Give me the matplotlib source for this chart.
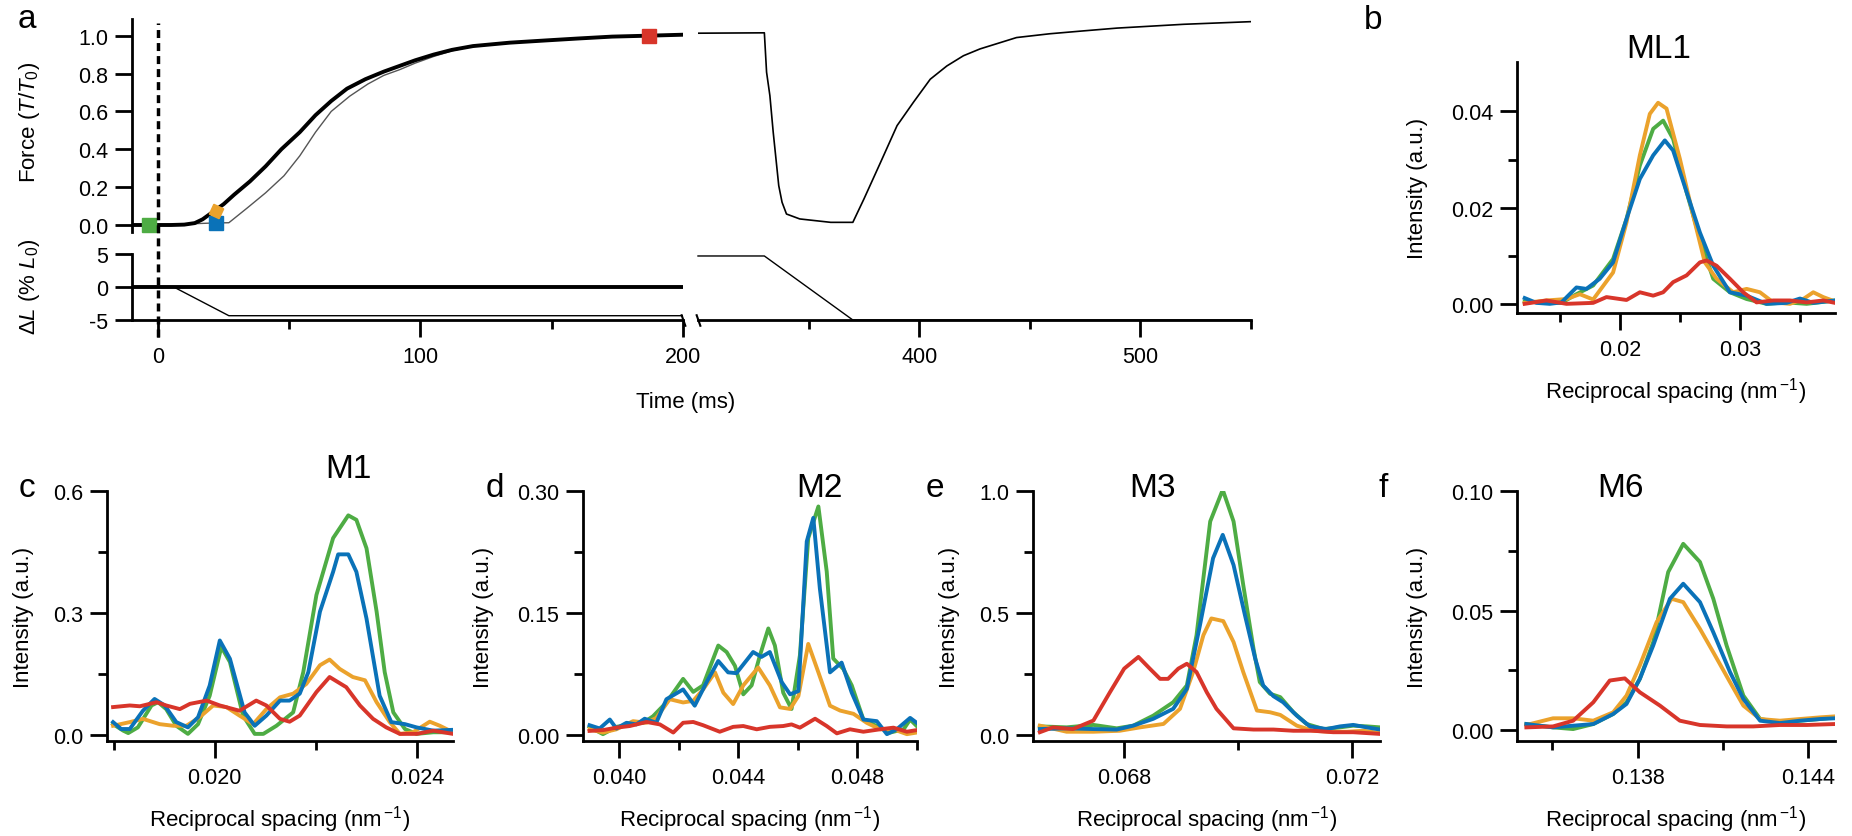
import matplotlib
matplotlib.use("Agg")
import matplotlib.pyplot as plt
from matplotlib.ticker import FixedLocator, FormatStrFormatter, FixedFormatter

plt.rcParams['font.family'] = ['Liberation Sans', 'DejaVu Sans']
plt.rcParams['mathtext.fontset'] = 'custom'
plt.rcParams['mathtext.rm'] = 'Liberation Sans'
plt.rcParams['mathtext.it'] = 'Liberation Sans:italic'
plt.rcParams['axes.unicode_minus'] = False

W, H = 1852, 837
GREEN, ORANGE, BLUE, RED = '#4EAC44', '#EBA22C', '#0A72B8', '#D8352A'

# ---------------- panel a : force and length traces ----------------
t_active = [-10, -5, 0, 5, 10, 14, 17, 21, 25, 29, 35, 41, 47, 54, 60, 66, 72, 79, 86, 92,
            98, 105, 112, 120, 134, 148, 160, 173, 187, 200]
f_active = [0.0, 0.0, 0.0, 0.0, 0.002, 0.01, 0.03, 0.07, 0.11, 0.16, 0.23, 0.31, 0.40, 0.49,
            0.58, 0.655, 0.72, 0.77, 0.81, 0.84, 0.87, 0.90, 0.925, 0.945, 0.963, 0.975,
            0.985, 0.995, 1.0, 1.005]
t_ramp = [-10, 10, 20, 27, 34, 41, 48, 54, 60, 66, 73, 80, 86, 92, 98, 105, 112, 120]
f_ramp = [0.0, 0.005, 0.01, 0.012, 0.09, 0.17, 0.26, 0.365, 0.49, 0.60, 0.68, 0.745, 0.79,
          0.82, 0.855, 0.89, 0.92, 0.945]
t_late = [300, 330, 331, 332.5, 334, 336.5, 338, 340, 346, 360, 370, 375, 382.5, 390, 397.5,
          405, 412.5, 420, 427.5, 444, 459, 474, 489.5, 519.5, 550]
f_late = [1.013, 1.015, 0.807, 0.683, 0.49, 0.208, 0.12, 0.058, 0.032, 0.014, 0.014, 0.137,
          0.33, 0.525, 0.65, 0.77, 0.84, 0.894, 0.93, 0.99, 1.01, 1.025, 1.04, 1.06, 1.074]
t_len_fixed = [-10, 200]
l_len_fixed = [0, 0]
t_len_ramp = [-10, 6, 27, 200]
l_len_ramp = [0, 0, -4.35, -4.35]
t_len_late = [300, 330, 370, 550]
l_len_late = [4.7, 4.7, -5.0, -5.0]
# time points of the x-ray frames
mark_t = [-3.4, 22, 22, 187]
mark_f = [0.0, 0.01, 0.075, 1.0]
mark_c = [GREEN, BLUE, ORANGE, RED]

# ---------------- spectra ----------------
b_green_x = [0.01208, 0.01389, 0.01514, 0.01639, 0.01778, 0.01944, 0.02056, 0.02167, 0.02278, 0.02361,
             0.02444, 0.02556, 0.02667, 0.02778, 0.02917, 0.03056, 0.03222, 0.03389, 0.03556, 0.03792]
b_green_y = [0.0006, 0.0003, 0.0003, 0.0021, 0.0039, 0.0094, 0.0177, 0.0288, 0.0364, 0.0381,
             0.0343, 0.0233, 0.0136, 0.0053, 0.0025, 0.0011, 0.0001, 0.0004, 0.0001, 0.0008]
b_blue_x = [0.01208, 0.01306, 0.01417, 0.01514, 0.01639, 0.01722, 0.01833, 0.01944, 0.02056, 0.02167,
            0.02278, 0.02375, 0.02444, 0.02556, 0.02667, 0.02778, 0.02917, 0.03056, 0.03222, 0.03389,
            0.03500, 0.03611, 0.03792]
b_blue_y = [0.0013, 0.0003, 0.0001, 0.0004, 0.0035, 0.0032, 0.0053, 0.0087, 0.0177, 0.0260,
            0.0309, 0.0340, 0.0319, 0.0233, 0.0149, 0.0080, 0.0025, 0.0018, 0.0001, 0.0003,
            0.0012, 0.0003, 0.0008]
b_orange_x = [0.01208, 0.01389, 0.01556, 0.01667, 0.01778, 0.01944, 0.02056, 0.02167, 0.02250, 0.02319,
              0.02389, 0.02500, 0.02611, 0.02708, 0.02806, 0.02944, 0.03056, 0.03167, 0.03278, 0.03417,
              0.03528, 0.03611, 0.03694, 0.03792]
b_orange_y = [0.0003, 0.0008, 0.0011, 0.0021, 0.0010, 0.0066, 0.0170, 0.0309, 0.0395, 0.0418,
              0.0406, 0.0302, 0.0184, 0.0087, 0.0053, 0.0025, 0.0032, 0.0025, 0.0004, 0.0001,
              0.0011, 0.0025, 0.0015, 0.0006]
b_red_x = [0.01208, 0.01389, 0.01556, 0.01778, 0.01889, 0.02056, 0.02167, 0.02278, 0.02361, 0.02444,
           0.02556, 0.02667, 0.02722, 0.02806, 0.02917, 0.03028, 0.03139, 0.03278, 0.03417, 0.03556,
           0.03694, 0.03792]
b_red_y = [0.0001, 0.0008, 0.0001, 0.0003, 0.0015, 0.0009, 0.0025, 0.0018, 0.0025, 0.0046,
           0.0060, 0.0087, 0.0091, 0.0080, 0.0053, 0.0025, 0.0004, 0.0008, 0.0008, 0.0004,
           0.0008, 0.0003]

c_green_x = [0.01799, 0.01819, 0.01829, 0.01848, 0.01875, 0.01888, 0.01904, 0.01924, 0.01947, 0.01967,
             0.01990, 0.02013, 0.02030, 0.02056, 0.02079, 0.02096, 0.02122, 0.02155, 0.02175, 0.02201,
             0.02234, 0.02264, 0.02280, 0.02300, 0.02320, 0.02336, 0.02353, 0.02376, 0.02399, 0.02432,
             0.02471]
c_green_y = [0.026, 0.010, 0.004, 0.018, 0.072, 0.080, 0.063, 0.022, 0.002, 0.026, 0.096, 0.216,
             0.179, 0.047, 0.002, 0.002, 0.022, 0.055, 0.154, 0.344, 0.484, 0.540, 0.529, 0.459,
             0.303, 0.154, 0.055, 0.014, 0.002, 0.006, 0.006]
c_blue_x = [0.01799, 0.01815, 0.01832, 0.01858, 0.01881, 0.01901, 0.01924, 0.01947, 0.01967, 0.01990,
            0.02010, 0.02030, 0.02059, 0.02079, 0.02102, 0.02129, 0.02148, 0.02168, 0.02185, 0.02208,
            0.02234, 0.02244, 0.02264, 0.02280, 0.02300, 0.02326, 0.02349, 0.02376, 0.02399, 0.02432,
            0.02471]
c_blue_y = [0.031, 0.014, 0.014, 0.059, 0.088, 0.072, 0.031, 0.018, 0.043, 0.121, 0.232, 0.187,
            0.055, 0.022, 0.047, 0.084, 0.084, 0.101, 0.154, 0.303, 0.401, 0.444, 0.444, 0.401,
            0.286, 0.096, 0.031, 0.026, 0.018, 0.010, 0.012]
c_orange_x = [0.01799, 0.01832, 0.01858, 0.01891, 0.01918, 0.01944, 0.01970, 0.01997, 0.02023, 0.02049,
              0.02076, 0.02102, 0.02129, 0.02155, 0.02181, 0.02208, 0.02227, 0.02247, 0.02273, 0.02297,
              0.02320, 0.02346, 0.02366, 0.02392, 0.02425, 0.02445, 0.02471]
c_orange_y = [0.022, 0.031, 0.039, 0.026, 0.022, 0.022, 0.043, 0.072, 0.068, 0.047, 0.026, 0.063,
              0.092, 0.101, 0.125, 0.171, 0.185, 0.162, 0.142, 0.134, 0.080, 0.031, 0.002, 0.006,
              0.032, 0.022, 0.006]
c_red_x = [0.01799, 0.01832, 0.01852, 0.01885, 0.01904, 0.01931, 0.01951, 0.01984, 0.02010, 0.02049,
           0.02082, 0.02102, 0.02129, 0.02148, 0.02168, 0.02201, 0.02227, 0.02260, 0.02287, 0.02313,
           0.02339, 0.02366, 0.02399, 0.02432, 0.02471]
c_red_y = [0.068, 0.072, 0.070, 0.080, 0.072, 0.063, 0.076, 0.084, 0.072, 0.059, 0.084, 0.072,
           0.039, 0.032, 0.047, 0.105, 0.142, 0.117, 0.072, 0.039, 0.018, 0.002, 0.002, 0.010, 0.002]

d_green_x = [0.03901, 0.03946, 0.03991, 0.04036, 0.04081, 0.04114, 0.04159, 0.04215, 0.04249, 0.04282,
             0.04333, 0.04361, 0.04389, 0.04417, 0.04445, 0.04473, 0.04501, 0.04523, 0.04551, 0.04579,
             0.04607, 0.04635, 0.04669, 0.04697, 0.04719, 0.04753, 0.04781, 0.04820, 0.04865, 0.04910,
             0.04955, 0.04977, 0.04999]
d_green_y = [0.010, 0.001, 0.010, 0.013, 0.015, 0.023, 0.040, 0.069, 0.053, 0.061, 0.110, 0.102,
             0.085, 0.050, 0.061, 0.098, 0.131, 0.110, 0.052, 0.032, 0.098, 0.242, 0.281, 0.201,
             0.094, 0.081, 0.061, 0.019, 0.011, 0.003, 0.007, 0.019, 0.011]
d_blue_x = [0.03901, 0.03935, 0.03969, 0.03991, 0.04025, 0.04058, 0.04086, 0.04125, 0.04159, 0.04215,
            0.04254, 0.04294, 0.04333, 0.04366, 0.04394, 0.04450, 0.04478, 0.04506, 0.04546, 0.04574,
            0.04602, 0.04630, 0.04652, 0.04674, 0.04708, 0.04747, 0.04781, 0.04820, 0.04865, 0.04899,
            0.04932, 0.04977, 0.04999]
d_blue_y = [0.012, 0.008, 0.019, 0.008, 0.015, 0.013, 0.020, 0.015, 0.044, 0.056, 0.036, 0.065,
            0.091, 0.077, 0.076, 0.102, 0.096, 0.102, 0.065, 0.050, 0.054, 0.238, 0.267, 0.180,
            0.077, 0.089, 0.052, 0.019, 0.017, 0.001, 0.007, 0.021, 0.015]
d_orange_x = [0.03901, 0.03946, 0.03991, 0.04047, 0.04092, 0.04125, 0.04170, 0.04215, 0.04249, 0.04282,
              0.04322, 0.04350, 0.04383, 0.04417, 0.04467, 0.04506, 0.04540, 0.04574, 0.04602, 0.04635,
              0.04669, 0.04708, 0.04742, 0.04787, 0.04831, 0.04876, 0.04921, 0.04966, 0.04999]
d_orange_y = [0.007, 0.003, 0.007, 0.017, 0.015, 0.021, 0.044, 0.040, 0.042, 0.056, 0.077, 0.052,
              0.038, 0.061, 0.083, 0.061, 0.034, 0.032, 0.048, 0.112, 0.077, 0.036, 0.030, 0.026,
              0.015, 0.007, 0.007, 0.001, 0.003]
d_red_x = [0.03901, 0.03946, 0.03991, 0.04036, 0.04092, 0.04137, 0.04182, 0.04215, 0.04249, 0.04282,
           0.04338, 0.04383, 0.04417, 0.04462, 0.04506, 0.04551, 0.04579, 0.04607, 0.04658, 0.04697,
           0.04731, 0.04775, 0.04820, 0.04876, 0.04921, 0.04966, 0.04999]
d_red_y = [0.005, 0.006, 0.009, 0.011, 0.016, 0.013, 0.003, 0.015, 0.016, 0.012, 0.004, 0.010,
           0.011, 0.007, 0.010, 0.011, 0.013, 0.009, 0.020, 0.011, 0.002, 0.007, 0.004, 0.007,
           0.009, 0.004, 0.006]

e_green_x = [0.06652, 0.06699, 0.06746, 0.06787, 0.06816, 0.06851, 0.06886, 0.06910, 0.06927, 0.06951,
             0.06973, 0.06992, 0.07009, 0.07027, 0.07038, 0.07056, 0.07074, 0.07097, 0.07120, 0.07150,
             0.07179, 0.07202, 0.07226, 0.07249]
e_green_y = [0.034, 0.030, 0.040, 0.026, 0.037, 0.078, 0.133, 0.202, 0.408, 0.875, 1.005, 0.875,
             0.614, 0.353, 0.216, 0.168, 0.154, 0.092, 0.044, 0.023, 0.030, 0.037, 0.034, 0.030]
e_blue_x = [0.06652, 0.06699, 0.06746, 0.06787, 0.06816, 0.06851, 0.06886, 0.06910, 0.06933, 0.06956,
            0.06973, 0.06992, 0.07012, 0.07030, 0.07044, 0.07062, 0.07079, 0.07103, 0.07126, 0.07155,
            0.07179, 0.07202, 0.07226, 0.07249]
e_blue_y = [0.023, 0.026, 0.023, 0.021, 0.037, 0.065, 0.106, 0.188, 0.449, 0.724, 0.820, 0.696,
            0.490, 0.312, 0.202, 0.158, 0.133, 0.078, 0.034, 0.023, 0.034, 0.040, 0.030, 0.021]
e_orange_x = [0.06652, 0.06699, 0.06746, 0.06792, 0.06828, 0.06869, 0.06898, 0.06921, 0.06939, 0.06953,
              0.06974, 0.06992, 0.07009, 0.07033, 0.07056, 0.07074, 0.07103, 0.07132, 0.07161, 0.07191,
              0.07220, 0.07249]
e_orange_y = [0.037, 0.012, 0.012, 0.016, 0.030, 0.044, 0.106, 0.257, 0.408, 0.477, 0.466, 0.380,
              0.257, 0.099, 0.092, 0.081, 0.037, 0.016, 0.012, 0.012, 0.016, 0.007]
e_red_x = [0.06652, 0.06675, 0.06710, 0.06746, 0.06775, 0.06800, 0.06825, 0.06845, 0.06863, 0.06877,
           0.06895, 0.06910, 0.06927, 0.06945, 0.06962, 0.06992, 0.07027, 0.07062, 0.07097, 0.07132,
           0.07167, 0.07202, 0.07249]
e_red_y = [0.010, 0.030, 0.023, 0.058, 0.174, 0.271, 0.319, 0.271, 0.229, 0.229, 0.271, 0.291,
           0.257, 0.174, 0.106, 0.026, 0.021, 0.021, 0.016, 0.016, 0.010, 0.010, 0.003]

f_green_x = [0.13408, 0.13502, 0.13573, 0.13644, 0.13714, 0.13761, 0.13808, 0.13855, 0.13908, 0.13961,
             0.14020, 0.14067, 0.14114, 0.14173, 0.14232, 0.14302, 0.14373, 0.14444, 0.14496]
f_green_y = [0.0025, 0.0011, 0.0004, 0.0025, 0.0067, 0.0116, 0.0214, 0.0367, 0.0661, 0.0779,
             0.0703, 0.0549, 0.0353, 0.0144, 0.0046, 0.0032, 0.0039, 0.0046, 0.0053]
f_blue_x = [0.13408, 0.13502, 0.13573, 0.13644, 0.13714, 0.13761, 0.13808, 0.13855, 0.13914, 0.13961,
            0.14020, 0.14067, 0.14126, 0.14173, 0.14232, 0.14302, 0.14373, 0.14444, 0.14496]
f_blue_y = [0.0025, 0.0011, 0.0018, 0.0025, 0.0067, 0.0109, 0.0214, 0.0353, 0.0549, 0.0612,
            0.0535, 0.0409, 0.0242, 0.0130, 0.0039, 0.0029, 0.0039, 0.0046, 0.0049]
f_orange_x = [0.13408, 0.13502, 0.13573, 0.13644, 0.13714, 0.13761, 0.13808, 0.13867, 0.13920, 0.13961,
              0.14020, 0.14067, 0.14126, 0.14173, 0.14232, 0.14302, 0.14373, 0.14444, 0.14496]
f_orange_y = [0.0021, 0.0049, 0.0049, 0.0039, 0.0074, 0.0144, 0.0270, 0.0451, 0.0549, 0.0535,
              0.0423, 0.0325, 0.0200, 0.0102, 0.0046, 0.0039, 0.0046, 0.0053, 0.0057]
f_red_x = [0.13408, 0.13502, 0.13573, 0.13644, 0.13702, 0.13755, 0.13808, 0.13879, 0.13949, 0.14020,
           0.14114, 0.14208, 0.14302, 0.14396, 0.14496]
f_red_y = [0.0011, 0.0015, 0.0039, 0.0116, 0.0207, 0.0216, 0.0158, 0.0102, 0.0039, 0.0021,
           0.0015, 0.0015, 0.0021, 0.0021, 0.0025]

fig = plt.figure(figsize=(W / 100, H / 100), dpi=100)


def rect(x0, y0, x1, y1):
    # pixel box -> figure fraction
    return [x0 / W, 1 - y1 / H, (x1 - x0) / W, (y1 - y0) / H]


def ftext(x, y, s, **kw):
    fig.text(x / W, 1 - y / H, s, **kw)


def style(ax, left=True, bottom=True):
    for side in ['top', 'right']:
        ax.spines[side].set_visible(False)
    ax.spines['left'].set_visible(left)
    ax.spines['bottom'].set_visible(bottom)
    for sp in ax.spines.values():
        sp.set_linewidth(2)
    ax.tick_params(which='major', direction='out', length=12, width=2, labelsize=15.5, pad=5)
    ax.tick_params(which='minor', direction='out', length=6.5, width=2)
    ax.tick_params(axis='x', which='major', pad=7)
    ax.tick_params(left=left, labelleft=left, bottom=bottom, labelbottom=bottom)
    ax.tick_params(which='minor', left=left, bottom=bottom)
    ax.patch.set_visible(False)


# panel a, first time segment
ax_f1 = fig.add_axes(rect(132, 20, 683, 233))
ax_l1 = fig.add_axes(rect(132, 255, 683, 321))
ax_f2 = fig.add_axes(rect(698, 20, 1251, 233))
ax_l2 = fig.add_axes(rect(698, 255, 1251, 321))

ax_f1.plot(t_ramp, f_ramp, color='#555555', lw=1.0)
ax_f1.plot(t_active, f_active, color='black', lw=2.8)
for tm, fm, cm in zip(mark_t, mark_f, mark_c):
    mk = (4, 0, 20) if cm == ORANGE else 's'
    ax_f1.plot([tm], [fm], marker=mk, ms=11 if cm == ORANGE else 9.5, color=cm,
               ls='none', clip_on=False, zorder=5)
ax_f1.set_xlim(-9.9, 200)
ax_f1.set_ylim(-0.037, 1.088)
style(ax_f1, left=True, bottom=False)
ax_f1.yaxis.set_major_locator(FixedLocator([0, 0.2, 0.4, 0.6, 0.8, 1.0]))
ax_f1.yaxis.set_major_formatter(FormatStrFormatter('%.1f'))

ax_l1.plot(t_len_ramp, l_len_ramp, color='black', lw=1.0)
ax_l1.plot(t_len_fixed, l_len_fixed, color='black', lw=2.8)
ax_l1.set_xlim(-9.9, 200)
ax_l1.set_ylim(-5, 5)
style(ax_l1)
ax_l1.yaxis.set_major_locator(FixedLocator([-5, 0, 5]))
ax_l1.yaxis.set_major_formatter(FixedFormatter(['-5', '0', '5']))
ax_l1.xaxis.set_major_locator(FixedLocator([0, 100, 200]))
ax_l1.xaxis.set_minor_locator(FixedLocator([50, 150]))
ax_l1.axvline(0, ymin=-0.25, ymax=4.5, color='black', lw=2.5, ls=(0, (2.3, 1.45)),
              clip_on=False, zorder=6)
ax_l1.plot([200], [-5], marker=[(-0.35, 1), (0.35, -1)], ms=9, mew=1.5, color='black',
           clip_on=False, ls='none')

ax_f2.plot(t_late, f_late, color='black', lw=1.2)
ax_f2.set_xlim(300, 550)
ax_f2.set_ylim(-0.037, 1.088)
style(ax_f2, left=False, bottom=False)

ax_l2.plot(t_len_late, l_len_late, color='black', lw=1.0, clip_on=False)
ax_l2.set_xlim(300, 550)
ax_l2.set_ylim(-5, 5)
style(ax_l2, left=False, bottom=True)
ax_l2.xaxis.set_major_locator(FixedLocator([400, 500]))
ax_l2.xaxis.set_minor_locator(FixedLocator([350, 450, 550]))
ax_l2.plot([300], [-5], marker=[(-0.35, 1), (0.35, -1)], ms=9, mew=1.5, color='black',
           clip_on=False, ls='none')

ftext(30, 122, r'Force ($\mathit{T}$/$\mathit{T}_0$)', rotation=90, ha='center', va='center', fontsize=16)
ftext(30, 287, r'$\Delta\mathit{L}$ (% $\mathit{L}_0$)', rotation=90, ha='center', va='center', fontsize=16)
ftext(686, 403, 'Time (ms)', ha='center', va='center', fontsize=16)


def spectrum(box, xlim, ylim, xmaj, xmin, ymaj, ymin, xfmt, yfmt, series):
    ax = fig.add_axes(rect(*box))
    for xs, ys, col in series:
        ax.plot(xs, ys, color=col, lw=2.8)
    ax.set_xlim(*xlim)
    ax.set_ylim(*ylim)
    style(ax)
    ax.xaxis.set_major_locator(FixedLocator(xmaj))
    ax.xaxis.set_minor_locator(FixedLocator(xmin))
    ax.yaxis.set_major_locator(FixedLocator(ymaj))
    ax.yaxis.set_minor_locator(FixedLocator(ymin))
    ax.xaxis.set_major_formatter(FormatStrFormatter(xfmt))
    ax.yaxis.set_major_formatter(FormatStrFormatter(yfmt))
    x0, y0, x1, y1 = box
    ftext(x0 - 99 if yfmt == '%.2f' else x0 - 84, (y0 + y1) / 2, 'Intensity (a.u.)',
          rotation=90, ha='center', va='center', fontsize=16)
    ftext((x0 + x1) / 2, y1 + 78, r'Reciprocal spacing (nm$^{\,\mathrm{-}1}$)', ha='center',
          va='center', fontsize=16)
    return ax


spectrum((1517, 63, 1835, 314), (0.01144, 0.03792), (-0.0018, 0.05026),
         [0.02, 0.03], [0.015, 0.025, 0.035], [0, 0.02, 0.04], [0.01, 0.03], '%.2f', '%.2f',
         [(b_green_x, b_green_y, GREEN), (b_orange_x, b_orange_y, ORANGE),
          (b_blue_x, b_blue_y, BLUE), (b_red_x, b_red_y, RED)])
spectrum((107, 492, 453, 742), (0.01787, 0.02471), (-0.0155, 0.6),
         [0.020, 0.024], [0.018, 0.022], [0, 0.3, 0.6], [0.15, 0.45], '%.3f', '%.1f',
         [(c_green_x, c_green_y, GREEN), (c_orange_x, c_orange_y, ORANGE),
          (c_blue_x, c_blue_y, BLUE), (c_red_x, c_red_y, RED)])
spectrum((583, 492, 917, 742), (0.03879, 0.0500), (-0.0074, 0.30),
         [0.040, 0.044, 0.048], [0.042, 0.046, 0.050], [0, 0.15, 0.30], [0.075, 0.225], '%.3f', '%.2f',
         [(d_green_x, d_green_y, GREEN), (d_orange_x, d_orange_y, ORANGE),
          (d_blue_x, d_blue_y, BLUE), (d_red_x, d_red_y, RED)])
spectrum((1033, 492, 1380, 742), (0.0664, 0.07249), (-0.026, 1.0),
         [0.068, 0.072], [0.070], [0, 0.5, 1.0], [0.25, 0.75], '%.3f', '%.1f',
         [(e_green_x, e_green_y, GREEN), (e_orange_x, e_orange_y, ORANGE),
          (e_blue_x, e_blue_y, BLUE), (e_red_x, e_red_y, RED)])
spectrum((1517, 492, 1835, 742), (0.13375, 0.14496), (-0.0046, 0.10),
         [0.138, 0.144], [0.135, 0.141], [0, 0.05, 0.10], [0.025, 0.075], '%.3f', '%.2f',
         [(f_green_x, f_green_y, GREEN), (f_orange_x, f_orange_y, ORANGE),
          (f_blue_x, f_blue_y, BLUE), (f_red_x, f_red_y, RED)])

# titles and panel letters
for x, y, s in [(1659, 58, 'ML1'), (348, 478, 'M1'), (819, 497, 'M2'), (1152, 497, 'M3'), (1620, 497, 'M6')]:
    ftext(x, y, s, ha='center', va='baseline', fontsize=24)
for x, y, s in [(27, 28, 'a'), (1373, 29, 'b'), (27, 497, 'c'), (495, 497, 'd'), (935, 497, 'e'), (1383, 497, 'f')]:
    ftext(x, y, s, ha='center', va='baseline', fontsize=24)

fig.savefig('out.png', dpi=100)
